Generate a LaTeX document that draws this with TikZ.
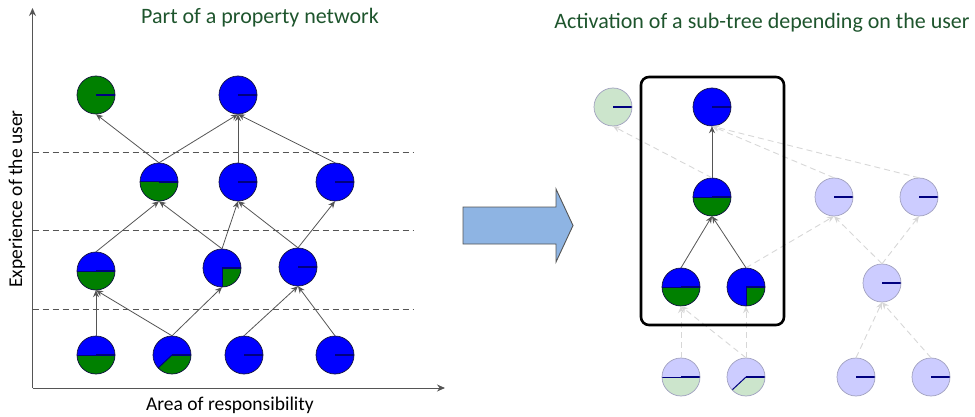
\documentclass[tikz,border=0pt]{standalone}
\usepackage{fontspec}
\setmainfont{Carlito}
\usetikzlibrary{arrows.meta}

\definecolor{pblue}{RGB}{0,0,255}
\definecolor{pgreen}{RGB}{0,128,0}
\definecolor{fblue}{RGB}{204,204,255}
\definecolor{fgreen}{RGB}{204,229,204}
\definecolor{navyline}{RGB}{0,0,128}
\definecolor{rimdark}{RGB}{20,20,60}
\definecolor{rimfade}{RGB}{160,160,190}
\definecolor{titlegreen}{RGB}{30,85,45}
\definecolor{edgegray}{RGB}{85,85,85}
\definecolor{fadeedge}{RGB}{215,215,215}
\definecolor{bigarrow}{RGB}{142,180,227}

\tikzset{
  pnode/.style={circle, minimum size=38pt, inner sep=0pt},
  edge/.style={draw=edgegray, line width=0.8pt, -{Stealth[length=7pt,width=6pt]}},
  fadeedgestyle/.style={draw=fadeedge, line width=0.9pt, dash pattern=on 6pt off 4pt,
    -{Stealth[length=7pt,width=6pt]}},
  levelline/.style={draw=edgegray, line width=0.7pt, dash pattern=on 6pt off 4pt},
  axisline/.style={draw=edgegray, line width=1pt, -{Stealth[length=8pt,width=7pt]}},
  titletext/.style={text=titlegreen, font=\fontsize{22}{26}\selectfont},
  axistext/.style={font=\fontsize{19.5}{23}\selectfont},
}

% #1 name, #2 position, #3 base fill, #4 sector fill, #5 sector start angle (sector runs to 0), #6 rim colour
\newcommand\pienode[6]{%
  \node[pnode, fill=#3] (#1) at (#2) {};
  \fill[#4] (#1.center) -- ++(#5:19) arc (#5:0:19) -- cycle;
  \draw[navyline, line width=1pt] (#1.center) -- ++(#5:19);
  \draw[navyline, line width=1.3pt] (#1.center) -- ++(0:19);
  \draw[#6, line width=0.7pt] (#1.center) circle (19);
}

\begin{document}
\begin{tikzpicture}[x=1pt, y=1pt]
\useasboundingbox (0,0) rectangle (975,-417);

% ---------- left: property network ----------
\node[titletext] (ltitle) at (260,-18) {Part of a property network};

\coordinate (origin) at (32.5,-388);
\coordinate (ytip) at (32.5,-8);
\coordinate (xtip) at (445,-388);
\draw[axisline] (origin) -- (ytip);
\draw[axisline] (origin) -- (xtip);
\node[axistext, rotate=90] (ylabel) at (17,-199) {Experience of the user};
\node[axistext] (xlabel) at (230,-405) {Area of responsibility};

\foreach \yy/\nm in {152/la, 230/lb, 309/lc}{
  \coordinate (\nm s) at (32.5,-\yy);
  \coordinate (\nm e) at (413,-\yy);
  \draw[levelline] (\nm s) -- (\nm e);
}

\pienode{a1}{96,-95}{pgreen}{pgreen}{0}{rimdark}
\pienode{a2}{238,-95}{pblue}{pblue}{0}{rimdark}
\pienode{b1}{159,-182}{pblue}{pgreen}{-180}{rimdark}
\pienode{b2}{238,-182}{pblue}{pblue}{0}{rimdark}
\pienode{b3}{335,-182}{pblue}{pblue}{0}{rimdark}
\pienode{c1}{96,-271}{pblue}{pgreen}{-180}{rimdark}
\pienode{c2}{222,-268}{pblue}{pgreen}{-90}{rimdark}
\pienode{c3}{298,-267}{pblue}{pblue}{0}{rimdark}
\pienode{d1}{96,-355}{pblue}{pgreen}{-180}{rimdark}
\pienode{d2}{172,-355}{pblue}{pgreen}{-137}{rimdark}
\pienode{d3}{244,-355}{pblue}{pblue}{0}{rimdark}
\pienode{d4}{335,-355}{pblue}{pblue}{0}{rimdark}

\foreach \s/\t in {b1/a1, b1/a2, b2/a2, b3/a2, c1/b1, c2/b1, c2/b2, c3/b2, c3/b3,
                   d1/c1, d2/c1, d2/c2, d3/c3, d4/c3}{
  \draw[edge] (\s.north) -- (\t.south);
}

% ---------- block arrow ----------
\draw[draw=edgegray, line width=0.9pt, fill=bigarrow, line join=miter]
  (463,-207) -- (556,-207) -- (556,-189) -- (573,-225.5) -- (556,-262)
  -- (556,-244) -- (463,-244) -- cycle;

% ---------- right: activated sub-tree ----------
\node[titletext] (rtitle) at (762,-23) {Activation of a sub-tree depending on the user};

\pienode{ra1}{613,-107}{fgreen}{fgreen}{0}{rimfade}
\pienode{ra2}{712,-107}{pblue}{pblue}{0}{rimdark}
\pienode{rb1}{712,-197}{pblue}{pgreen}{-180}{rimdark}
\pienode{rb2}{834,-197}{fblue}{fblue}{0}{rimfade}
\pienode{rb3}{919,-197}{fblue}{fblue}{0}{rimfade}
\pienode{rc1}{681,-287}{pblue}{pgreen}{-180}{rimdark}
\pienode{rc2}{746,-287}{pblue}{pgreen}{-90}{rimdark}
\pienode{rc3}{882,-283}{fblue}{fblue}{0}{rimfade}
\pienode{rd1}{681,-377}{fblue}{fgreen}{-180}{rimfade}
\pienode{rd2}{746,-377}{fblue}{fgreen}{-137}{rimfade}
\pienode{rd3}{856,-377}{fblue}{fblue}{0}{rimfade}
\pienode{rd4}{931,-377}{fblue}{fblue}{0}{rimfade}

\foreach \s/\t in {rb1/ra1, rb2/ra2, rb3/ra2, rc2/rb2, rc3/rb2, rc3/rb3,
                   rd1/rc1, rd2/rc1, rd2/rc2, rd3/rc3, rd4/rc3}{
  \draw[fadeedgestyle] (\s.north) -- (\t.south);
}
\foreach \s/\t in {rb1/ra2, rc1/rb1, rc2/rb1}{
  \draw[edge] (\s.north) -- (\t.south);
}

\node[draw=black, line width=2.6pt, rounded corners=8pt, minimum width=143pt,
      minimum height=248pt, inner sep=0pt] (subtree) at (712.5,-201) {};
\end{tikzpicture}
\end{document}
